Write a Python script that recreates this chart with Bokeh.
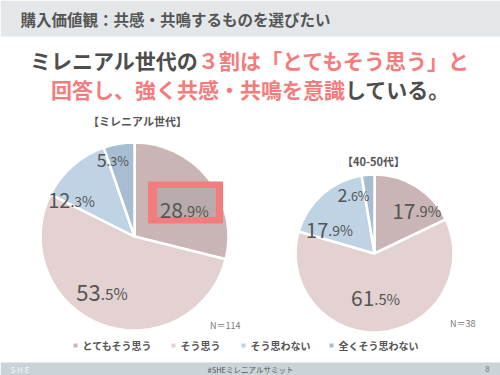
import numpy as np
from bokeh.plotting import figure
from bokeh.models import Range1d, ColumnDataSource
from bokeh.core.properties import value
from bokeh.embed import file_html
from bokeh.resources import INLINE

# ---------------- data ----------------
categories = ["とてもそう思う", "そう思う", "そう思わない", "全くそう思わない"]
millennial = [28.9, 53.5, 12.3, 5.3]
gen4050 = [17.9, 61.5, 17.9, 2.6]
n_millennial = 114
n_gen4050 = 38
header_title = "購入価値観：共感・共鳴するものを選びたい"
headline1 = ["ミレニアル世代の", "３割は「とてもそう思う」と"]
headline2 = ["回答し、強く共感・共鳴を意識", "している。"]
sub_left = "【ミレニアル世代】"
sub_right = "【40-50代】"
footer_text = "#SHEミレニアルサミット"
page_no = "8"

# ---------------- style ----------------
colors = ["#c9b5b6", "#e4d1d1", "#bfd3e5", "#a9bdd2"]
DARK = "#4d4d4d"
RED = "#f47c7c"
JP = value("Noto Sans CJK JP")
H = 375


def Y(y):
    return H - y


p = figure(width=500, height=375, x_range=Range1d(0, 500), y_range=Range1d(0, 375),
           output_backend="svg", toolbar_location=None, min_border=0,
           x_axis_type=None, y_axis_type=None, outline_line_color=None,
           background_fill_color="white", border_fill_color="white")
p.grid.visible = False

# header / footer bands
p.quad(left=[0], right=[500], top=[Y(0)], bottom=[Y(36)], fill_color="#e3e7e9", line_color=None)
p.quad(left=[0], right=[500], top=[Y(362)], bottom=[Y(380)], fill_color="#c9d4d8", line_color=None)

p.text(x=[20], y=[Y(18)], text=[header_title], text_font=JP, text_font_size="15.5px",
       text_font_style="bold", text_color="#555555", text_baseline="middle", text_align="left")

# headline, full-width characters of 21px
fs = 21
for parts, yc, cols in [(headline1, 59, [DARK, RED]), (headline2, 88, [RED, DARK])]:
    total = sum(len(s) for s in parts) * fs
    x0 = (500 - total) / 2
    for s, c in zip(parts, cols):
        p.text(x=[x0], y=[Y(yc)], text=[s], text_font=JP, text_font_size=f"{fs}px",
               text_font_style="bold", text_color=c, text_baseline="middle", text_align="left")
        x0 += len(s) * fs


def pie(vals, cx, cy, r, fac, dang, sizes, box=False):
    v = np.array(vals, dtype=float)
    frac = v / v.sum()
    cum = np.concatenate([[0.0], np.cumsum(frac)])
    start = np.pi / 2 - 2 * np.pi * cum[:-1]
    end = np.pi / 2 - 2 * np.pi * cum[1:]
    src = ColumnDataSource(dict(start=start, end=end, color=colors))
    p.wedge(x=cx, y=Y(cy), radius=r, start_angle="start",
            end_angle="end", direction="clock", fill_color="color", line_color="white",
            line_width=2.5, source=src)
    mid = np.degrees((cum[:-1] + cum[1:]) / 2 * 2 * np.pi) + np.array(dang)
    ax = cx + np.array(fac) * r * np.sin(np.radians(mid))
    ay = cy - np.array(fac) * r * np.cos(np.radians(mid))
    for i, val in enumerate(vals):
        s = f"{val:.1f}"
        big, small = s.split(".")
        size = sizes[i]
        if box and i == 0:
            bx, by = ax[i] + 2.5, ay[i]
            p.quad(left=[bx - 37.5], right=[bx + 37.5], top=[Y(by - 21)], bottom=[Y(by + 21)],
                   fill_color=RED, line_color=None)
            p.quad(left=[bx - 28.5], right=[bx + 30.5], top=[Y(by - 14.5)], bottom=[Y(by + 14.5)],
                   fill_color="#b9abab", line_color=None)
        base = Y(ay[i] + 0.36 * size)
        p.text(x=[ax[i]], y=[base], text=[big], text_font=JP, text_font_size=f"{size}px",
               text_color="#555555", text_baseline="alphabetic", text_align="right")
        p.text(x=[ax[i]], y=[base], text=["." + small + "%"], text_font=JP,
               text_font_size=f"{size * 0.7:.1f}px", text_color="#555555",
               text_baseline="alphabetic", text_align="left")


pie(millennial, 134, 236, 94, [0.63, 0.63, 0.82, 0.93], [3, 14.5, -15, -9], [21, 22, 20, 18], box=True)
pie(gen4050, 374, 253, 79, [0.82, 0.47, 0.70, 0.89], [7, 5, -15, -18], [21, 21, 20, 18])

# sub titles
p.text(x=[137], y=[Y(120)], text=[sub_left], text_font=JP, text_font_size="11px",
       text_font_style="bold", text_color="#555555", text_baseline="middle", text_align="center")
p.text(x=[373], y=[Y(160)], text=[sub_right], text_font=JP, text_font_size="11px",
       text_font_style="bold", text_color="#555555", text_baseline="middle", text_align="center")

# N labels
p.text(x=[240], y=[Y(325)], text=[f"N＝{n_millennial}"], text_font=JP, text_font_size="9px",
       text_color="#777777", text_baseline="middle", text_align="right")
p.text(x=[475], y=[Y(323)], text=[f"N＝{n_gen4050}"], text_font=JP, text_font_size="9px",
       text_color="#777777", text_baseline="middle", text_align="right")

# legend
legend_x = [75, 173, 243, 331]
p.scatter(x=legend_x, y=[Y(345)] * 4, marker="square", size=4, fill_color=colors, line_color=None)
p.text(x=[x + 7 for x in legend_x], y=[Y(345)] * 4, text=categories, text_font=JP,
       text_font_size="10px", text_font_style="bold", text_color="#555555",
       text_baseline="middle", text_align="left")

# footer
p.text(x=[10], y=[Y(368.5)], text=["S H E"], text_font=JP, text_font_size="8px",
       text_color="#f4f6f7", text_baseline="middle", text_align="left")
p.text(x=[250], y=[Y(368.5)], text=[footer_text], text_font=JP, text_font_size="7.5px",
       text_color="#555555", text_baseline="middle", text_align="center")
p.text(x=[487], y=[Y(368.5)], text=[page_no], text_font=JP, text_font_size="8px",
       text_color="#777777", text_baseline="middle", text_align="center")

open("out.html", "w").write(file_html(p, INLINE))
